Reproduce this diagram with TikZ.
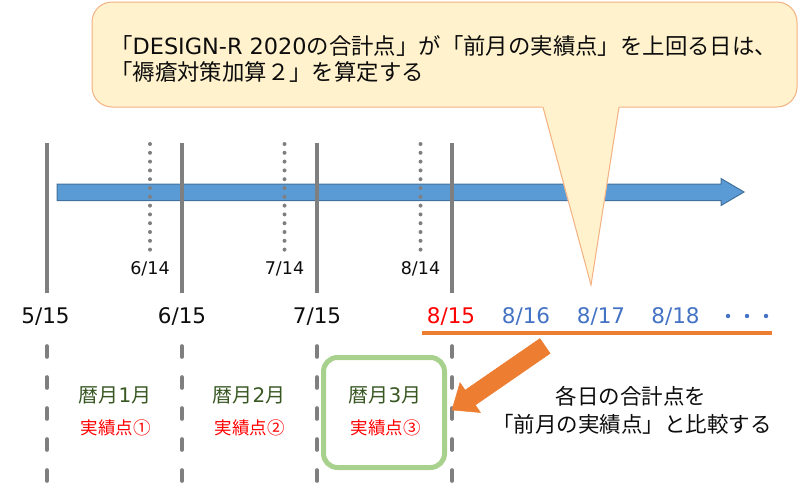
\documentclass[tikz,border=0pt]{standalone}
\usepackage{fontspec}
\setmainfont{Noto Sans CJK JP}
\newfontfamily\latinfont{DejaVu Sans}
\definecolor{calloutfill}{HTML}{FFF2CC}
\definecolor{calloutline}{HTML}{F4B183}
\definecolor{arrowblue}{HTML}{5B9BD5}
\definecolor{arrowblueline}{HTML}{41719C}
\definecolor{linegray}{HTML}{7F7F7F}
\definecolor{dateblue}{HTML}{4472C4}
\definecolor{accentorange}{HTML}{ED7D31}
\definecolor{boxgreen}{HTML}{A9D18E}
\definecolor{darkgreen}{HTML}{385723}
\definecolor{labelred}{HTML}{FF0000}
\definecolor{textblack}{HTML}{0D0D0D}
\begin{document}
\begin{tikzpicture}[x=1pt,y=-1pt,
  lbl/.style={inner sep=0pt, text height={#1pt*0.88}, text depth={#1pt*0.12},
              font=\fontsize{#1}{#1}\selectfont, text=textblack},
  datelbl/.style={inner sep=0pt, text height={#1pt*0.73}, text depth=0pt,
              font=\latinfont\fontsize{#1}{#1}\selectfont, text=textblack},
  solidtick/.style={draw=linegray, line width=3.4pt},
  dottick/.style={draw=linegray, line width=4pt, line cap=round, dash pattern=on 0pt off 8.8pt},
  dashtick/.style={draw=linegray, line width=3.6pt, line cap=round, dash pattern=on 11pt off 20pt},
  calloutbox/.style={fill=calloutfill, draw=calloutline, line width=1pt},
]
\useasboundingbox (0,0) rectangle (800,493);

% blue timeline arrow
\path[draw=arrowblueline, fill=arrowblue, line width=1pt]
  (57,184) -- (721,184) -- (721,178.5) -- (744,192) -- (721,205.5) -- (721,200.5) -- (57,200.5) -- cycle;

% solid month ticks and dashed ticks
\foreach \x/\n in {47/a,182/b,317/c,452/d}{
  \coordinate (top\n) at (\x,143);
  \coordinate (bot\n) at (\x,293);
  \draw[solidtick] (top\n) -- (bot\n);
  \coordinate (dtop\n) at (\x,346);
  \coordinate (dbot\n) at (\x,485);
  \draw[dashtick] (dtop\n) -- (dbot\n);
}
% dotted ticks
\foreach \x/\n in {150/a,284.5/b,420.5/c}{
  \coordinate (ptop\n) at (\x,144);
  \coordinate (pbot\n) at (\x,251);
  \draw[dottick] (ptop\n) -- (pbot\n);
}

% callout
\path[calloutbox, rounded corners=20pt] (92,2) rectangle (797,107);
\fill[calloutfill] (542,106) -- (619.5,106) -- (591,285) -- cycle;
\coordinate (cl) at (543,107);
\coordinate (cr) at (619,107);
\coordinate (ctip) at (591,285);
\draw[draw=calloutline, line width=1pt, line join=miter] (cl) -- (ctip) -- (cr);
\node[lbl=22.4, anchor=west] (cline1) at (110,46) {「{\latinfont DESIGN-R 2020}の合計点」が「前月の実績点」を上回る日は、};
\node[lbl=22.4, anchor=west] (cline2) at (110,72) {「褥瘡対策加算２」を算定する};

% small date labels
\node[datelbl=17.5] (d614) at (150,268) {6/14};
\node[datelbl=17.5] (d714) at (284.5,268) {7/14};
\node[datelbl=17.5] (d814) at (420.5,268) {8/14};

% date labels
\node[datelbl=21.5] (d515) at (45.5,316) {5/15};
\node[datelbl=21.5] (d615) at (182,316) {6/15};
\node[datelbl=21.5] (d715) at (317,316) {7/15};
\node[datelbl=21.5, text=labelred] (d815) at (451,316) {8/15};
\node[datelbl=21.5, text=dateblue] (d816) at (526,316) {8/16};
\node[datelbl=21.5, text=dateblue] (d817) at (601,316) {8/17};
\node[datelbl=21.5, text=dateblue] (d818) at (675.5,316) {8/18};
\foreach \x/\n in {728/a,747/b,766/c}{
  \fill[dateblue] (\x,316) circle (2.2pt);
}

% orange underline
\coordinate (ul) at (422,333);
\coordinate (ur) at (772,333);
\draw[accentorange, line width=3.2pt] (ul) -- (ur);

% green box
\draw[boxgreen, line width=5pt, rounded corners=14pt] (323.5,357.5) rectangle (444.5,467.5);

% month labels
\node[lbl=20, text=darkgreen] (m1) at (115,395) {暦月{\latinfont 1}月};
\node[lbl=17.5, text=labelred] (r1) at (115.5,428) {実績点①};
\node[lbl=20, text=darkgreen] (m2) at (249,395) {暦月{\latinfont 2}月};
\node[lbl=17.5, text=labelred] (r2) at (249.5,428) {実績点②};
\node[lbl=20, text=darkgreen] (m3) at (385,395) {暦月{\latinfont 3}月};
\node[lbl=17.5, text=labelred] (r3) at (385.5,428) {実績点③};

% orange block arrow
\path[fill=accentorange, draw=accentorange, line width=0.5pt, line join=miter]
  (539.9,338.6) -- (465.1,390.2) -- (460.0,382.7) -- (452,410) -- (480.4,412.5) -- (475.3,405.0) -- (550.1,353.4) -- cycle;

% right text
\node[lbl=21.5] (cmp1) at (631,396) {各日の合計点を};
\node[lbl=21.5] (cmp2) at (632,424) {「前月の実績点」と比較する};
\end{tikzpicture}
\end{document}
